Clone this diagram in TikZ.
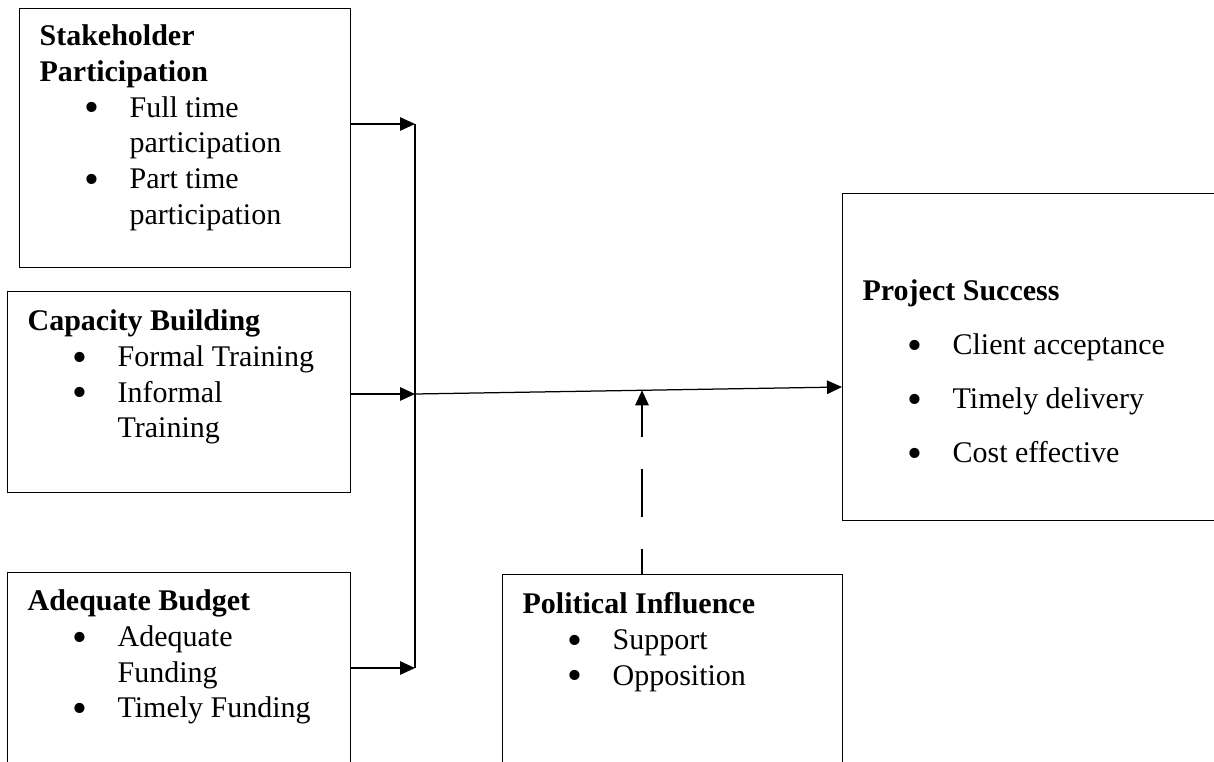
\documentclass[tikz,border=0pt]{standalone}
\usepackage{fontspec}
\setmainfont{Liberation Serif}
\usetikzlibrary{math, arrows.meta}

\newcommand{\itm}{\par\hspace*{18pt}\makebox[18pt][l]{\smash{\raisebox{-1.9pt}{\fontsize{17}{0}\selectfont\textbullet}}}}
\newcommand{\nxt}{\par\hspace*{36pt}}

\begin{document}
\begin{tikzpicture}[x=0.4pt, y=-0.4pt,
    frame/.style={draw, line width=0.5pt, inner xsep=8pt, inner ysep=0pt, anchor=north west,
                  font=\fontsize{12}{14.3}\selectfont},
    link/.style={line width=0.5pt},
    arr/.style={link, -{Triangle[length=6pt, width=5.4pt]}}]
  \tikzmath{
    \jx=415;
    \ya=124;
    \yb=394;
    \yc=668;
    \yt=387;
    \dx=642;
    \yh=\yb+(\yt-\yb)*(\dx-\jx)/(842-\jx);}
  \useasboundingbox (0,0) rectangle (1214,761);
  \clip (0,0) rectangle (1214,761);
  % independent variables
  \node[frame] (stake) at (19,8) {\parbox[t][103.6pt][t]{116.4pt}{\raggedright
      \rule{0pt}{14.8pt}\textbf{Stakeholder}\par\textbf{Participation}%
      \itm Full time\nxt participation\itm Part time\nxt participation}};
  \node[frame] (capac) at (7,291) {\parbox[t][80.4pt][t]{121.2pt}{\raggedright
      \rule{0pt}{15.6pt}\textbf{Capacity Building}%
      \itm Formal Training\itm Informal\nxt Training}};
  \node[frame] (budget) at (7,572) {\parbox[t][100pt][t]{121.2pt}{\raggedright
      \rule{0pt}{15.2pt}\textbf{Adequate Budget}%
      \itm Adequate\nxt Funding\itm Timely Funding}};
  % moderating and dependent variables
  \node[frame] (polit) at (502,574) {\parbox[t][100pt][t]{120pt}{\raggedright
      \rule{0pt}{15.6pt}\textbf{Political Influence}%
      \itm Support\itm Opposition}};
  \node[frame] (success) at (842,193) {\parbox[t][130.8pt][t]{144pt}{\raggedright
      \fontsize{12}{21.6}\selectfont
      \rule{0pt}{42.8pt}\textbf{Project Success}%
      \itm Client acceptance\itm Timely delivery\itm Cost effective}};
  \coordinate (ja) at (\jx,\ya);
  \coordinate (jb) at (\jx,\yb);
  \coordinate (jc) at (\jx,\yc);
  \coordinate (lvl) at (0,\yt);
  \coordinate (hit) at (\dx,\yh);
  \draw[arr] (stake.east |- ja) -- (ja);
  \draw[arr] (capac.east |- jb) -- (jb);
  \draw[arr] (budget.east |- jc) -- (jc);
  \draw[link] (ja) -- (jc);
  \draw[arr] (jb) -- (success.west |- lvl);
  \draw[arr, dash pattern=on 19pt off 13pt, dash phase=9pt] (polit.north -| hit) -- (hit);
\end{tikzpicture}
\end{document}
